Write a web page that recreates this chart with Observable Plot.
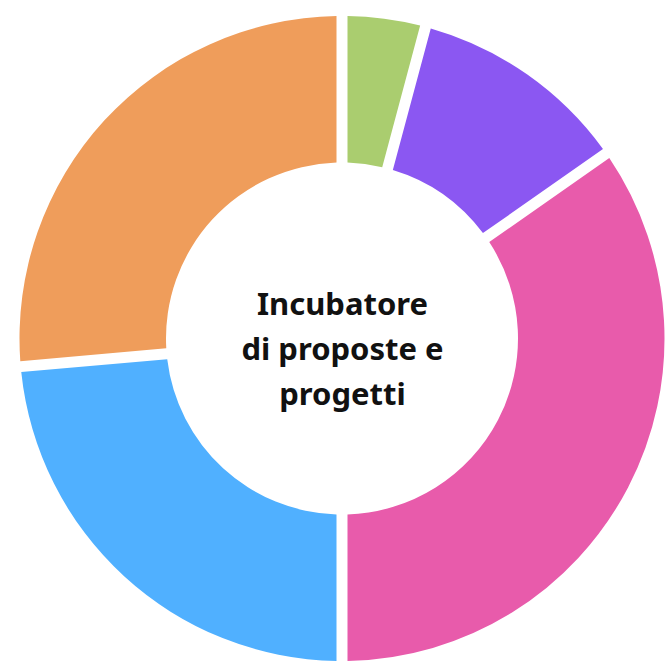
<!DOCTYPE html>
<html>
<head>
<meta charset="utf-8">
<script src="https://cdn.jsdelivr.net/npm/d3@7"></script>
<script src="https://cdn.jsdelivr.net/npm/@observablehq/plot@0.6"></script>
<style>
  html, body { margin: 0; padding: 0; background: #fff; }
  #chart { width: 665px; height: 664px; }
</style>
</head>
<body>
<div id="chart"></div>
<script>
const categories = ["A", "B", "C", "D", "E"];
const values = [3, 8, 25, 17, 19];
const colors = ["#aacd6f", "#8b57f2", "#e85bab", "#50b0ff", "#ef9d5b"];
const centerLabel = "Incubatore\ndi proposte e\nprogetti";

const data = categories.map((c, i) => ({category: c, value: values[i]}));

const innerRatio = 176 / 322.5;
const gapPx = 11;

const chart = Plot.plot({
  width: 665,
  height: 664,
  margin: 0,
  x: {domain: [-342 / 322.5, 323 / 322.5], axis: null},
  y: {domain: [-(664 - 338.5) / 322.5, 338.5 / 322.5], axis: null},
  color: {domain: categories, range: colors},
  style: {background: "#fff"},
  marks: [
    Plot.dot(data, {
      x: () => 0,
      y: () => 0,
      fill: "category",
      render: (index, scales, vals) => {
        const cx = scales.x(0), cy = scales.y(0);
        const R = scales.x(1) - cx;
        const r = scales.x(innerRatio) - cx;
        const arcs = d3.pie().value(d => d.value).sort(null)(data);
        const arc = d3.arc().innerRadius(r).outerRadius(R).padRadius(R).padAngle(gapPx / R);
        const g = d3.create("svg:g").attr("transform", `translate(${cx},${cy})`);
        g.selectAll("path")
          .data(Array.from(index))
          .join("path")
          .attr("d", i => arc(arcs[i]))
          .attr("fill", i => vals.fill[i]);
        return g.node();
      }
    }),
    Plot.text([centerLabel], {
      x: () => 0,
      y: () => 0,
      text: d => d,
      fontSize: 31,
      fontWeight: 700,
      fontFamily: "Noto Sans",
      lineHeight: 1.45,
      lineAnchor: "middle",
      dy: 7,
      fill: "#111"
    })
  ]
});
document.getElementById("chart").appendChild(chart);
</script>
</body>
</html>
